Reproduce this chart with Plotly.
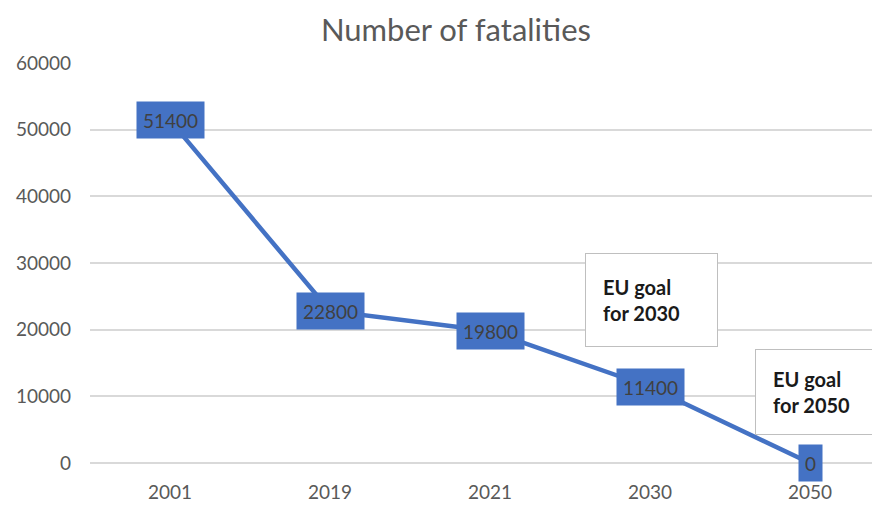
import plotly.graph_objects as go

years = ["2001", "2019", "2021", "2030", "2050"]
fatalities = [51400, 22800, 19800, 11400, 0]
y_ticks = [0, 10000, 20000, 30000, 40000, 50000, 60000]
goal_notes = ["EU goal<br>for 2030", "EU goal<br>for 2050"]

BLUE = "#4472C4"
GREY = "#595959"
FONT = "Lato"

fig = go.Figure()
fig.add_trace(go.Scatter(
    x=years, y=fatalities, mode="lines",
    line=dict(color=BLUE, width=4.5),
    hoverinfo="skip", showlegend=False,
))

# data labels in blue boxes centred on points
for i, yv in enumerate(fatalities):
    fig.add_annotation(
        x=i, y=yv, xref="x", yref="y", text=str(yv), showarrow=False,
        xanchor="center", yanchor="middle",
        font=dict(family=FONT, size=19, color="#404040"),
        bgcolor=BLUE, borderpad=6, height=24,
    )

# goal note boxes
fig.add_annotation(
    x=3.01, y=24450, xref="x", yref="y", text="<b>" + goal_notes[0] + "</b>",
    showarrow=False, xanchor="center", yanchor="middle", align="left",
    font=dict(family=FONT, size=20, color="#1a1a1a"),
    bgcolor="white", bordercolor="#BFBFBF", borderwidth=1, borderpad=17,
    width=97, height=58,
)
fig.add_annotation(
    x=3.656, y=10650, xref="x", yref="y", text="<b>" + goal_notes[1] + "</b>",
    showarrow=False, xanchor="left", yanchor="middle", align="left",
    font=dict(family=FONT, size=20, color="#1a1a1a"),
    bgcolor="white", bordercolor="#BFBFBF", borderwidth=1, borderpad=17,
    width=97, height=50,
)

fig.update_layout(
    width=880, height=507,
    margin=dict(l=82, r=0, t=55, b=52),
    paper_bgcolor="white", plot_bgcolor="white",
    title=dict(text="Number of fatalities", x=0.509, xanchor="center",
               y=0.957, yanchor="middle",
               font=dict(family=FONT, size=31, color=GREY)),
    xaxis=dict(
        type="category", categoryorder="array", categoryarray=years,
        range=[-0.5, 4.4875], showgrid=False, zeroline=False, showline=False,
        tickfont=dict(family=FONT, size=19, color=GREY), ticklabelstandoff=16,
    ),
    yaxis=dict(
        range=[0, 60000], tickvals=y_ticks, ticktext=[str(v) for v in y_ticks],
        showgrid=True, gridcolor="#D9D9D9", gridwidth=1.5,
        zeroline=True, zerolinecolor="#D9D9D9", zerolinewidth=1.5,
        showline=False,
        tickfont=dict(family=FONT, size=19, color=GREY), ticklabelstandoff=18,
    ),
)

fig.write_html("out.html")
